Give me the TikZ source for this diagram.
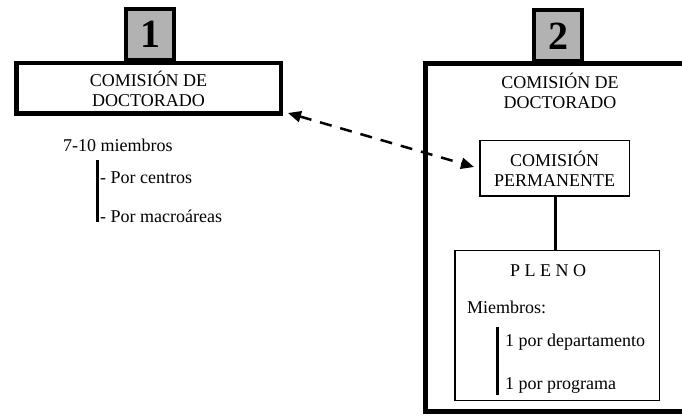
\documentclass[tikz,border=0pt]{standalone}
\usepackage{fontspec}
\setmainfont{Liberation Serif}
\usetikzlibrary{arrows.meta}
\definecolor{labelgray}{RGB}{178,178,178}
\begin{document}
\begin{tikzpicture}[x=1pt,y=-1pt,
  txt/.style={font=\fontsize{18}{20}\selectfont, inner sep=0pt, align=center},
  heavybox/.style={draw, line width=4.5pt, fill=white, inner sep=0pt},
  thinbox/.style={draw, line width=1.5pt, fill=white, inner sep=0pt},
  numbox/.style={draw, line width=4pt, fill=labelgray, inner sep=0pt,
    minimum width=48pt, minimum height=51pt, font=\fontsize{40}{40}\selectfont\bfseries},
  bar/.style={line width=3pt},
  link/.style={line width=3pt},
  dashlink/.style={line width=2.5pt, dash pattern=on 12pt off 9pt,
    {Triangle[length=13pt,width=11pt]}-{Triangle[length=13pt,width=11pt]}, shorten <=0pt, shorten >=0pt},
]
\useasboundingbox (0,0) rectangle (682,419);

% ---------- Part 1 ----------
\node[numbox] (num1) at (150,34.5) {1};
\node[heavybox, minimum width=264.5pt, minimum height=50.5pt, txt] (box1) at (148.5,88.5) {COMISIÓN DE\\DOCTORADO};
\node[txt, anchor=west] (miem1) at (63,145) {7-10 miembros};
\coordinate (bar1top) at (97,160);
\coordinate (bar1bot) at (97,222);
\draw[bar] (bar1top) -- (bar1bot);
\node[txt, anchor=west] (cent) at (100,178) {- Por centros};
\node[txt, anchor=west] (macro) at (100,216) {- Por macroáreas};

% ---------- Part 2 ----------
\node[heavybox, fill=none, minimum width=300pt, minimum height=348pt] (outer2) at (575.25,237.5) {};
\node[numbox] (num2) at (558,36) {2};
\node[txt] (box2txt) at (560,90.5) {COMISIÓN DE\\DOCTORADO};
\node[thinbox, minimum width=149.5pt, minimum height=55.5pt, txt] (perm) at (554.5,168.5) {COMISIÓN\\PERMANENTE};
\node[thinbox, minimum width=204.5pt, minimum height=149.5pt] (pleno) at (557,325.5) {};
\draw[link] (perm.south -| 555,0) -- (pleno.north -| 555,0);
\node[txt] (plenotxt) at (548,271) {P L E N O};
\node[txt, anchor=west] (miem2) at (467,307) {Miembros:};
\coordinate (bar2top) at (497,327);
\coordinate (bar2bot) at (497,395);
\draw[bar] (bar2top) -- (bar2bot);
\node[txt, anchor=west] (dep) at (505,342) {1 por departamento};
\node[txt, anchor=west] (prog) at (505,385) {1 por programa};

% ---------- Dashed link ----------
\coordinate (dA) at (288,113);
\coordinate (dB) at (474,167);
\draw[dashlink] (dA) -- (dB);
\end{tikzpicture}
\end{document}
